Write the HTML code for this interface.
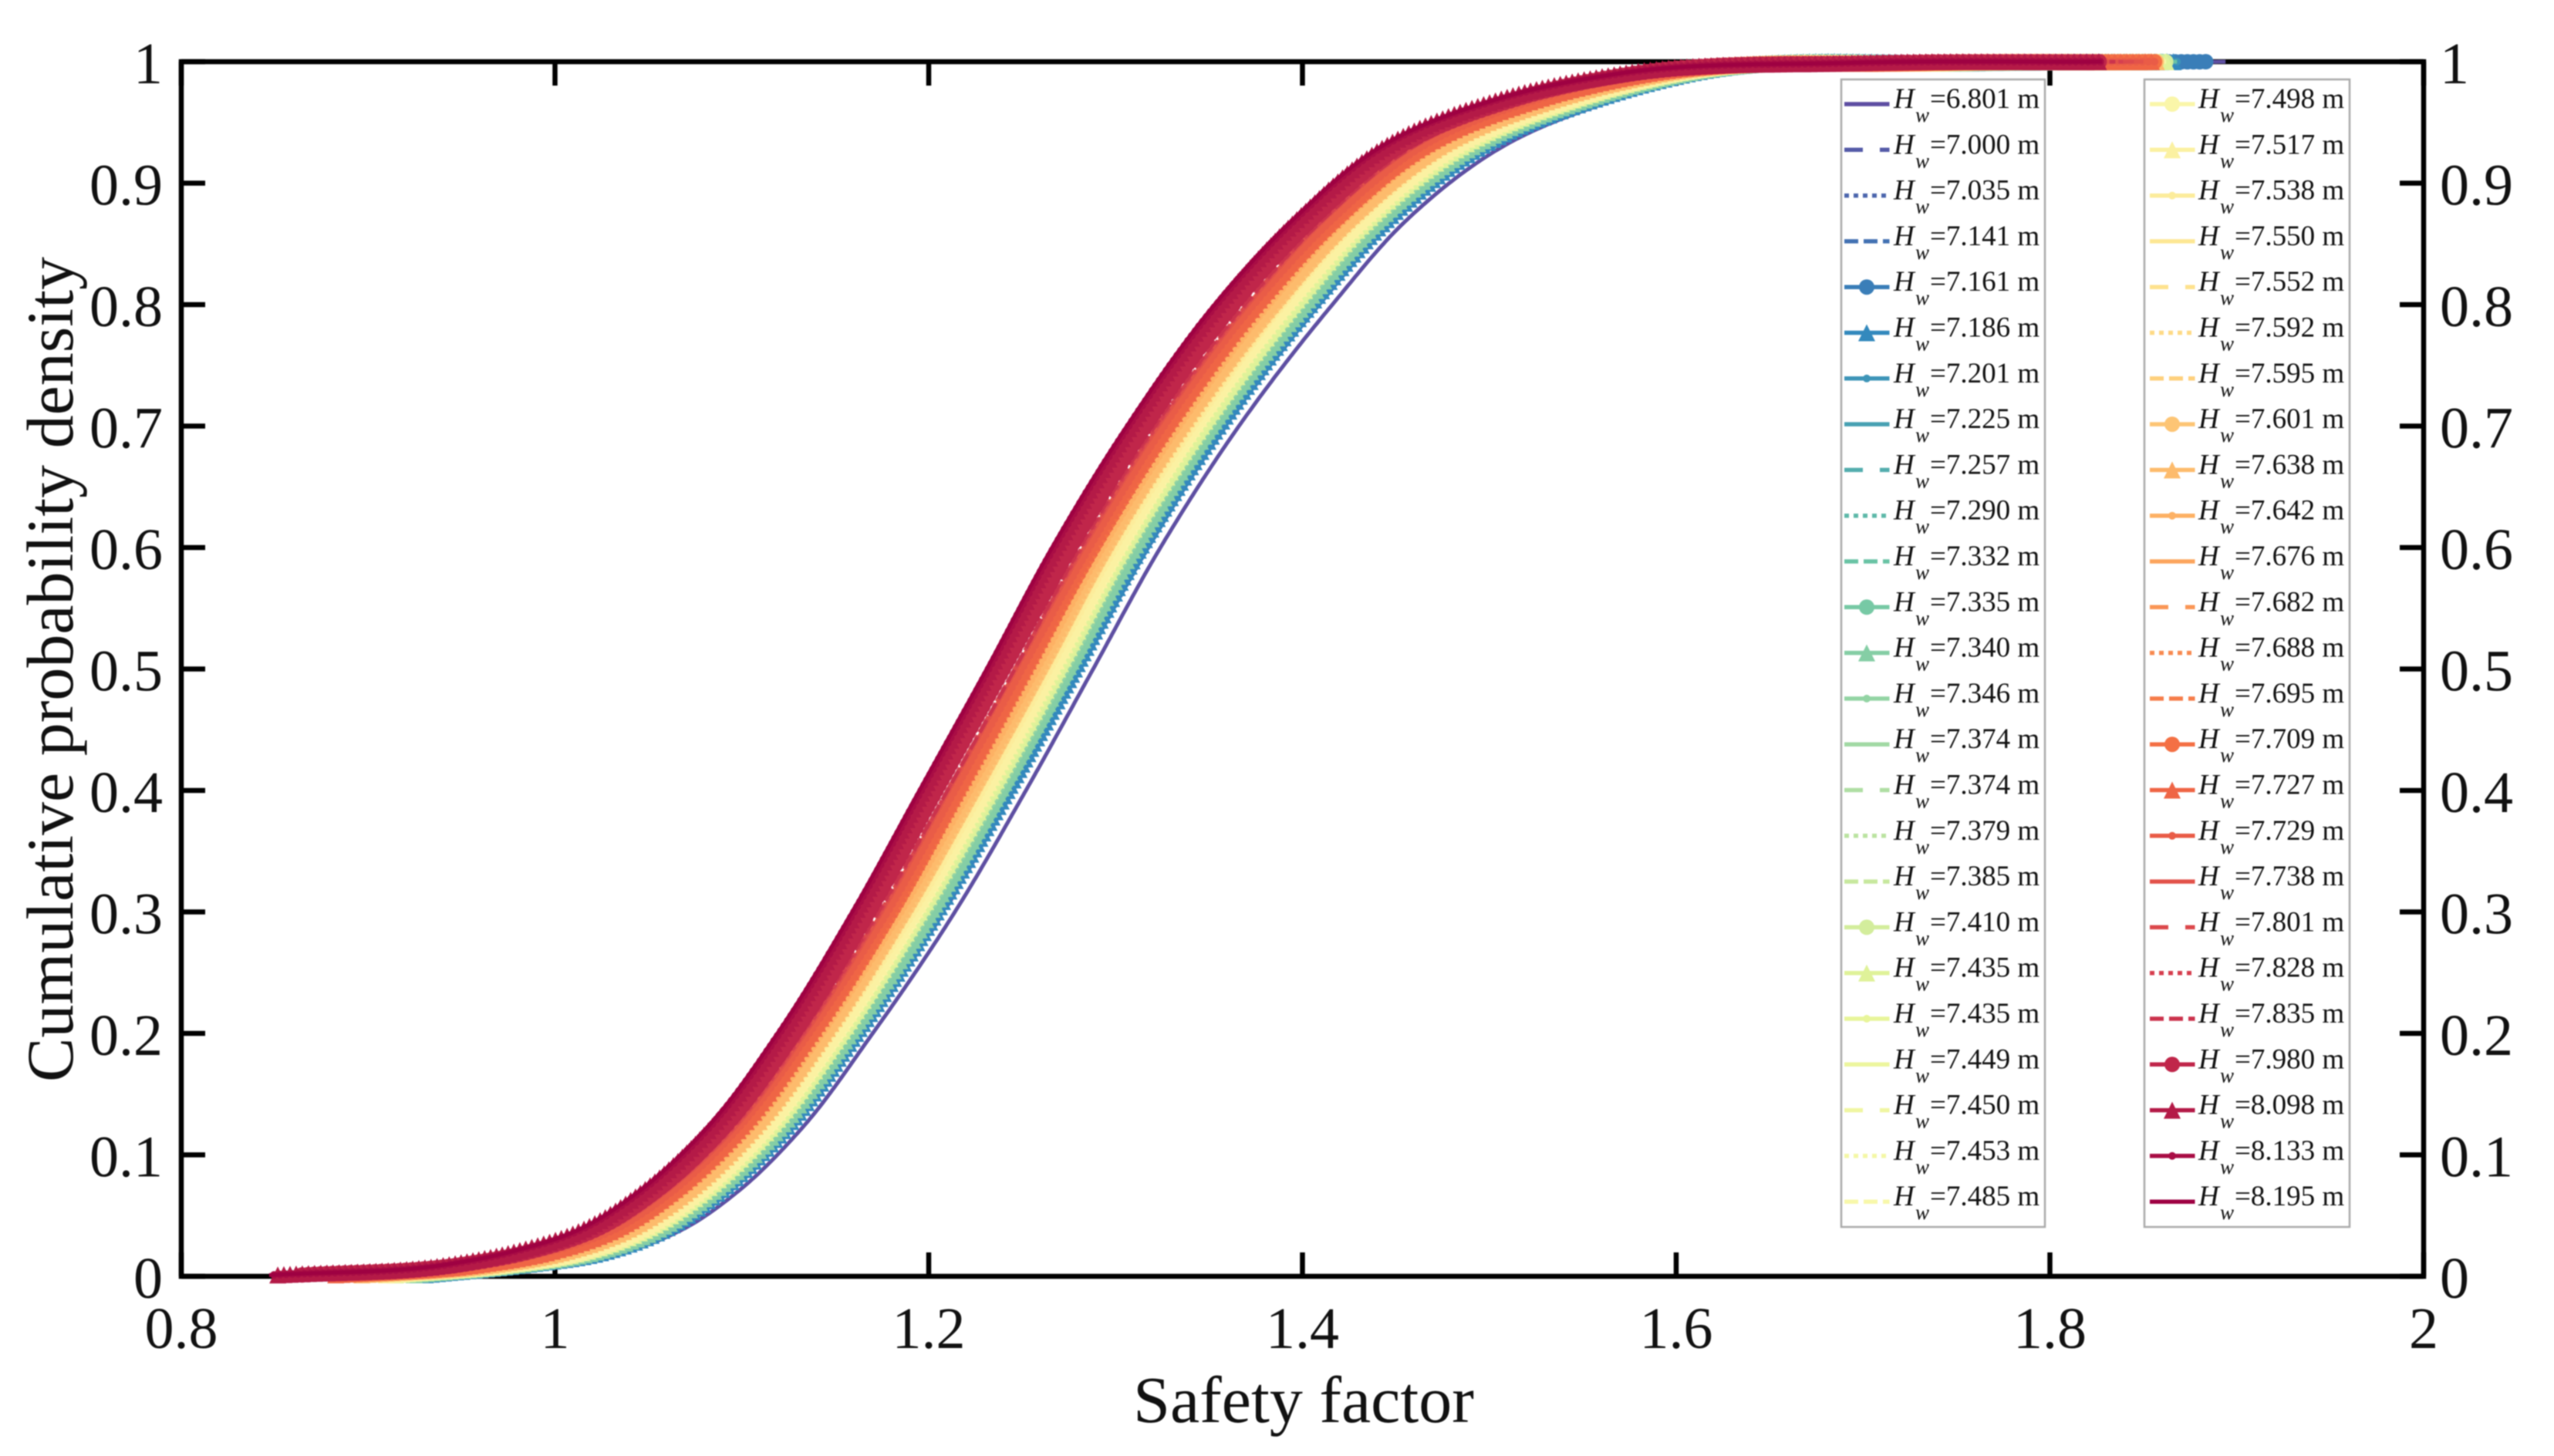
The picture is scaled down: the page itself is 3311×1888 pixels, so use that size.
<!DOCTYPE html>
<html lang="en">
<head>
<meta charset="utf-8">
<title>Cumulative probability density vs safety factor</title>
<style>
html,body{margin:0;padding:0;background:#fff;}
svg{display:block;filter:blur(0.7px);font-family:"Liberation Serif","Times New Roman",serif;}
</style>
</head>
<body>
<svg id="chart" xmlns="http://www.w3.org/2000/svg" width="3311" height="1888" viewBox="0 0 3311 1888">
  <rect width="3311" height="1888" fill="#fff"/>
  <g id="axes"></g>
  <g id="curves"></g>
  <g id="legends"></g>
  <text x="1690" y="1844" font-size="86" text-anchor="middle" fill="#111">Safety factor</text>
  <text transform="translate(94,868) rotate(-90)" font-size="86" text-anchor="middle" fill="#111">Cumulative probability density</text>
</svg>
<script>
const xTickValues = [0.8, 1, 1.2, 1.4, 1.6, 1.8, 2];
const xTickLabels = ["0.8", "1", "1.2", "1.4", "1.6", "1.8", "2"];
const yTickValues = [0, 0.1, 0.2, 0.3, 0.4, 0.5, 0.6, 0.7, 0.8, 0.9, 1];
const yTickLabels = ["0", "0.1", "0.2", "0.3", "0.4", "0.5", "0.6", "0.7", "0.8", "0.9", "1"];

const waterHeights = ["6.801","7.000","7.035","7.141","7.161","7.186","7.201","7.225","7.257","7.290","7.332","7.335","7.340","7.346","7.374","7.374","7.379","7.385","7.410","7.435","7.435","7.449","7.450","7.453","7.485","7.498","7.517","7.538","7.550","7.552","7.592","7.595","7.601","7.638","7.642","7.676","7.682","7.688","7.695","7.709","7.727","7.729","7.738","7.801","7.828","7.835","7.980","8.098","8.133","8.195"];

const probabilityLevels = [0.001,0.01,0.02,0.04,0.07,0.12,0.2,0.3,0.4,0.5,0.6,0.7,0.8,0.87,0.93,0.97,0.99,0.999,1];

const safetyFactors = [
[.947,.996,1.037,1.070,1.098,1.131,1.170,1.214,1.252,1.288,1.324,1.366,1.416,1.456,1.507,1.570,1.615,1.776,1.894],
[.935,.990,1.030,1.064,1.092,1.125,1.164,1.208,1.245,1.281,1.317,1.359,1.409,1.449,1.500,1.563,1.610,1.766,1.877],
[.935,.990,1.030,1.063,1.092,1.125,1.164,1.207,1.245,1.281,1.317,1.359,1.408,1.449,1.499,1.562,1.609,1.766,1.876],
[.932,.988,1.028,1.062,1.090,1.123,1.162,1.206,1.244,1.280,1.315,1.357,1.407,1.447,1.497,1.560,1.608,1.763,1.874],
[.929,.987,1.026,1.060,1.089,1.122,1.161,1.204,1.242,1.278,1.314,1.355,1.405,1.445,1.496,1.559,1.607,1.761,1.885],
[.929,.986,1.026,1.060,1.088,1.122,1.161,1.204,1.242,1.278,1.313,1.355,1.404,1.445,1.495,1.558,1.606,1.761,1.866],
[.928,.986,1.025,1.060,1.088,1.121,1.160,1.204,1.241,1.277,1.313,1.355,1.404,1.444,1.495,1.558,1.606,1.760,1.868],
[.927,.986,1.025,1.059,1.088,1.121,1.160,1.203,1.241,1.277,1.312,1.354,1.404,1.444,1.494,1.557,1.606,1.759,1.868],
[.927,.985,1.025,1.059,1.087,1.121,1.160,1.203,1.240,1.276,1.312,1.354,1.403,1.444,1.494,1.557,1.606,1.759,1.868],
[.926,.985,1.024,1.058,1.087,1.120,1.159,1.202,1.240,1.276,1.312,1.353,1.403,1.443,1.493,1.557,1.605,1.758,1.868],
[.925,.984,1.023,1.058,1.086,1.120,1.159,1.202,1.239,1.275,1.311,1.353,1.402,1.442,1.492,1.556,1.605,1.757,1.868],
[.923,.984,1.023,1.057,1.086,1.119,1.158,1.201,1.239,1.275,1.310,1.352,1.401,1.442,1.492,1.555,1.604,1.756,1.862],
[.923,.983,1.022,1.057,1.085,1.119,1.158,1.201,1.238,1.274,1.310,1.351,1.401,1.441,1.491,1.554,1.604,1.755,1.862],
[.922,.983,1.022,1.056,1.085,1.118,1.157,1.200,1.238,1.274,1.309,1.351,1.400,1.441,1.491,1.554,1.603,1.755,1.862],
[.920,.982,1.020,1.055,1.084,1.117,1.156,1.199,1.237,1.273,1.308,1.350,1.399,1.439,1.489,1.553,1.602,1.753,1.862],
[.919,.981,1.020,1.055,1.083,1.117,1.156,1.199,1.236,1.272,1.308,1.349,1.398,1.439,1.489,1.552,1.602,1.752,1.862],
[.918,.981,1.019,1.054,1.083,1.116,1.155,1.198,1.235,1.271,1.307,1.349,1.398,1.438,1.488,1.551,1.601,1.751,1.862],
[.916,.980,1.018,1.053,1.082,1.116,1.155,1.197,1.235,1.271,1.306,1.348,1.397,1.437,1.487,1.550,1.601,1.750,1.862],
[.914,.979,1.017,1.052,1.081,1.115,1.154,1.196,1.234,1.270,1.305,1.347,1.396,1.436,1.486,1.549,1.600,1.748,1.862],
[.913,.978,1.016,1.051,1.080,1.114,1.153,1.195,1.233,1.269,1.304,1.346,1.395,1.435,1.485,1.548,1.599,1.747,1.862],
[.912,.978,1.016,1.051,1.080,1.114,1.153,1.195,1.232,1.268,1.304,1.345,1.394,1.435,1.485,1.548,1.599,1.747,1.862],
[.912,.977,1.016,1.051,1.079,1.113,1.152,1.195,1.232,1.268,1.303,1.345,1.394,1.435,1.484,1.547,1.599,1.746,1.862],
[.911,.977,1.015,1.050,1.079,1.113,1.152,1.194,1.232,1.268,1.303,1.344,1.393,1.434,1.484,1.547,1.598,1.746,1.862],
[.910,.977,1.015,1.050,1.079,1.112,1.151,1.194,1.231,1.267,1.302,1.344,1.393,1.434,1.483,1.547,1.598,1.745,1.862],
[.910,.976,1.014,1.050,1.078,1.112,1.151,1.194,1.231,1.267,1.302,1.344,1.393,1.433,1.483,1.546,1.598,1.744,1.862],
[.909,.976,1.014,1.049,1.078,1.112,1.151,1.193,1.230,1.266,1.302,1.343,1.392,1.433,1.482,1.546,1.597,1.744,1.857],
[.908,.975,1.013,1.048,1.077,1.111,1.150,1.192,1.230,1.266,1.301,1.342,1.391,1.432,1.481,1.545,1.597,1.743,1.857],
[.906,.975,1.012,1.048,1.077,1.110,1.149,1.192,1.229,1.265,1.300,1.342,1.390,1.431,1.481,1.544,1.596,1.742,1.857],
[.905,.974,1.011,1.047,1.076,1.110,1.149,1.191,1.228,1.264,1.299,1.341,1.390,1.430,1.480,1.543,1.595,1.740,1.857],
[.904,.973,1.011,1.046,1.075,1.109,1.148,1.190,1.227,1.263,1.298,1.340,1.389,1.430,1.479,1.542,1.595,1.739,1.857],
[.901,.972,1.009,1.045,1.074,1.108,1.147,1.189,1.226,1.262,1.297,1.338,1.387,1.428,1.477,1.540,1.594,1.737,1.857],
[.899,.971,1.008,1.044,1.073,1.107,1.146,1.188,1.225,1.261,1.296,1.338,1.386,1.427,1.476,1.540,1.593,1.736,1.857],
[.898,.970,1.007,1.043,1.072,1.106,1.145,1.187,1.224,1.260,1.295,1.336,1.385,1.426,1.475,1.538,1.592,1.734,1.857],
[.895,.969,1.005,1.041,1.071,1.105,1.144,1.185,1.222,1.258,1.293,1.335,1.383,1.424,1.473,1.537,1.591,1.732,1.857],
[.893,.968,1.004,1.041,1.070,1.104,1.143,1.185,1.222,1.258,1.293,1.334,1.382,1.423,1.472,1.536,1.590,1.731,1.857],
[.890,.966,1.002,1.039,1.068,1.102,1.141,1.183,1.220,1.256,1.291,1.332,1.380,1.421,1.470,1.534,1.589,1.728,1.857],
[.889,.966,1.002,1.039,1.068,1.102,1.141,1.183,1.219,1.255,1.290,1.332,1.380,1.421,1.470,1.533,1.588,1.727,1.857],
[.889,.965,1.002,1.038,1.067,1.102,1.141,1.182,1.219,1.255,1.290,1.331,1.379,1.421,1.469,1.533,1.588,1.727,1.857],
[.887,.965,1.001,1.037,1.067,1.101,1.140,1.181,1.218,1.254,1.289,1.330,1.378,1.420,1.468,1.532,1.587,1.726,1.857],
[.884,.963,.999,1.036,1.065,1.099,1.138,1.180,1.216,1.252,1.288,1.328,1.376,1.418,1.466,1.530,1.586,1.723,1.856],
[.881,.961,.997,1.034,1.063,1.098,1.137,1.178,1.215,1.251,1.286,1.327,1.375,1.416,1.464,1.528,1.584,1.720,1.856],
[.881,.961,.997,1.034,1.063,1.097,1.136,1.178,1.214,1.250,1.286,1.326,1.374,1.416,1.464,1.528,1.584,1.720,1.856],
[.875,.958,.993,1.031,1.060,1.095,1.134,1.175,1.211,1.247,1.283,1.323,1.371,1.412,1.460,1.524,1.582,1.715,1.850],
[.874,.957,.992,1.030,1.059,1.094,1.133,1.174,1.210,1.246,1.282,1.322,1.370,1.411,1.459,1.523,1.581,1.714,1.845],
[.873,.957,.992,1.030,1.059,1.094,1.133,1.174,1.210,1.246,1.282,1.322,1.370,1.411,1.459,1.523,1.581,1.714,1.840],
[.872,.957,.992,1.029,1.059,1.093,1.132,1.173,1.210,1.246,1.281,1.321,1.369,1.411,1.459,1.522,1.580,1.713,1.835],
[.863,.952,.986,1.024,1.054,1.089,1.128,1.168,1.204,1.240,1.276,1.316,1.363,1.405,1.452,1.516,1.576,1.705,1.828],
[.850,.945,.978,1.017,1.047,1.082,1.121,1.161,1.197,1.233,1.268,1.308,1.355,1.397,1.444,1.508,1.570,1.694,1.826],
[.848,.944,.977,1.016,1.046,1.081,1.120,1.160,1.196,1.232,1.267,1.307,1.354,1.396,1.443,1.507,1.569,1.692,1.827],
[.847,.943,.976,1.015,1.045,1.080,1.119,1.159,1.195,1.231,1.266,1.306,1.353,1.395,1.442,1.506,1.568,1.691,1.828]
];

const SVGNS = "http://www.w3.org/2000/svg";
const plot = {left: 235, right: 3142, top: 80, bottom: 1655};
function xAxis(v) { return plot.left + (v - 0.8) / 1.2 * (plot.right - plot.left); }
function yAxis(v) { return plot.bottom - v * (plot.bottom - plot.top); }

const cmapStops = [[94,79,162],[50,136,189],[102,194,165],[171,221,164],[230,245,152],[250,248,172],[254,224,139],[253,174,97],[244,109,67],[213,62,79],[158,1,66]];
function seriesColor(i) {
  const t = i / 49 * 10, a = Math.min(9, Math.floor(t)), f = t - a;
  const c = [0,1,2].map(k => Math.round(cmapStops[a][k] + (cmapStops[a+1][k] - cmapStops[a][k]) * f));
  return "rgb(" + c.join(",") + ")";
}
function styleOf(i) { return i % 7; }
function dashOf(style) {
  if (style === 1) return "24 22";
  if (style === 2) return "6 6";
  if (style === 3) return "18 7";
  return "";
}
function markerPath(style, x, y) {
  const f = n => n.toFixed(1);
  if (style === 4) { const r = 10; return "M" + f(x-r) + " " + f(y) + "a" + r + " " + r + " 0 1 0 " + 2*r + " 0a" + r + " " + r + " 0 1 0 " + (-2*r) + " 0Z"; }
  if (style === 5) { const r = 11; return "M" + f(x) + " " + f(y-r) + "L" + f(x+r) + " " + f(y+r) + "L" + f(x-r) + " " + f(y+r) + "Z"; }
  if (style === 6) { const r = 5; return "M" + f(x-r) + " " + f(y) + "a" + r + " " + r + " 0 1 0 " + 2*r + " 0a" + r + " " + r + " 0 1 0 " + (-2*r) + " 0Z"; }
  return "";
}
function sampleCurve(values) {
  const xs = values.map(xAxis), ys = probabilityLevels.map(yAxis), n = xs.length;
  const h = [];
  for (let i = 0; i < n - 1; i++) h.push(Math.hypot(xs[i+1] - xs[i], ys[i+1] - ys[i]));
  function tangents(v) {
    const d = [], m = [];
    for (let i = 0; i < n - 1; i++) d.push((v[i+1] - v[i]) / h[i]);
    m[0] = d[0]; m[n-1] = d[n-2];
    for (let i = 1; i < n - 1; i++) m[i] = (d[i-1] * h[i] + d[i] * h[i-1]) / (h[i-1] + h[i]);
    return m;
  }
  const mx = tangents(xs), my = tangents(ys);
  const pts = [];
  for (let i = 0; i < n - 1; i++) {
    const steps = Math.max(2, Math.ceil(h[i] / 4));
    for (let j = 0; j < steps; j++) {
      const t = j / steps, t2 = t*t, t3 = t2*t;
      const a = 2*t3-3*t2+1, b = (t3-2*t2+t)*h[i], c = -2*t3+3*t2, e = (t3-t2)*h[i];
      pts.push([a*xs[i] + b*mx[i] + c*xs[i+1] + e*mx[i+1], a*ys[i] + b*my[i] + c*ys[i+1] + e*my[i+1]]);
    }
  }
  pts.push([xs[n-1], ys[n-1]]);
  return pts;
}

const axes = document.getElementById("axes");
function addLine(parent, x1, y1, x2, y2, name) {
  const el = document.createElementNS(SVGNS, "line");
  el.setAttribute("x1", x1); el.setAttribute("y1", y1);
  el.setAttribute("x2", x2); el.setAttribute("y2", y2);
  el.setAttribute("stroke", "#000"); el.setAttribute("stroke-width", "6.5");
  
  
  parent.appendChild(el);
}
function addText(parent, x, y, str, anchor, size, name) {
  const el = document.createElementNS(SVGNS, "text");
  el.setAttribute("x", x); el.setAttribute("y", y);
  el.setAttribute("text-anchor", anchor); el.setAttribute("font-size", size);
  el.setAttribute("fill", "#111");
  
  
  el.textContent = str;
  parent.appendChild(el);
  return el;
}
const frame = document.createElementNS(SVGNS, "rect");
frame.setAttribute("x", plot.left); frame.setAttribute("y", plot.top);
frame.setAttribute("width", plot.right - plot.left); frame.setAttribute("height", plot.bottom - plot.top);
frame.setAttribute("fill", "none"); frame.setAttribute("stroke", "#000"); frame.setAttribute("stroke-width", "6.5");


axes.appendChild(frame);

xTickValues.forEach((v, i) => {
  const x = xAxis(v);
  addLine(axes, x, plot.bottom, x, plot.bottom - 31, "x-tick-bottom");
  addLine(axes, x, plot.top, x, plot.top + 31, "x-tick-top");
  addText(axes, x, 1748, xTickLabels[i], "middle", 76, "x-tick-label");
});
yTickValues.forEach((v, i) => {
  const y = yAxis(v);
  addLine(axes, plot.left, y, plot.left + 31, y, "y-tick-left");
  addLine(axes, plot.right, y, plot.right - 31, y, "y-tick-right");
  addText(axes, 211, y + 28, yTickLabels[i], "end", 76, "y-tick-label-left");
  addText(axes, 3163, y + 28, yTickLabels[i], "start", 76, "y-tick-label-right");
});

const curves = document.getElementById("curves");
safetyFactors.forEach((values, i) => {
  const pts = sampleCurve(values), style = styleOf(i), color = seriesColor(i);
  const g = document.createElementNS(SVGNS, "g");
  
  
  const line = document.createElementNS(SVGNS, "path");
  line.setAttribute("d", "M" + pts.map(p => p[0].toFixed(1) + " " + p[1].toFixed(1)).join("L"));
  line.setAttribute("fill", "none");
  line.setAttribute("stroke", color);
  line.setAttribute("stroke-width", "5");
  const dash = dashOf(style);
  if (dash) line.setAttribute("stroke-dasharray", dash);
  
  
  g.appendChild(line);
  if (style >= 4) {
    let acc = 7, d = "";
    for (let k = 1; k < pts.length; k++) {
      acc += Math.hypot(pts[k][0] - pts[k-1][0], pts[k][1] - pts[k-1][1]);
      if (acc >= 7) { d += markerPath(style, pts[k][0], pts[k][1]); acc = 0; }
    }
    const mk = document.createElementNS(SVGNS, "path");
    mk.setAttribute("d", d);
    mk.setAttribute("fill", color);
    
    
    g.appendChild(mk);
  }
  curves.appendChild(g);
});

const legends = document.getElementById("legends");
const legendColumns = [
  {boxX: 2387, boxW: 264, lineX: 2391, textX: 2455, start: 0},
  {boxX: 2780, boxW: 266, lineX: 2787, textX: 2850, start: 25}
];
legendColumns.forEach(col => {
  const box = document.createElementNS(SVGNS, "rect");
  box.setAttribute("x", col.boxX); box.setAttribute("y", 103);
  box.setAttribute("width", col.boxW); box.setAttribute("height", 1488);
  box.setAttribute("fill", "#fff"); box.setAttribute("stroke", "#aaa"); box.setAttribute("stroke-width", "2.5");
  
  
  legends.appendChild(box);
  for (let r = 0; r < 25; r++) {
    const i = col.start + r, y = 135 + r * 59.3, style = styleOf(i), color = seriesColor(i);
    const g = document.createElementNS(SVGNS, "g");
    
    
    const ln = document.createElementNS(SVGNS, "line");
    ln.setAttribute("x1", col.lineX); ln.setAttribute("x2", col.lineX + 58.5);
    ln.setAttribute("y1", y); ln.setAttribute("y2", y);
    ln.setAttribute("stroke", color); ln.setAttribute("stroke-width", "5.5");
    const dash = dashOf(style);
    if (dash) ln.setAttribute("stroke-dasharray", dash);
    
    
    g.appendChild(ln);
    if (style >= 4) {
      const mk = document.createElementNS(SVGNS, "path");
      mk.setAttribute("d", markerPath(style, col.lineX + 29, y));
      mk.setAttribute("fill", color);
      
      
      g.appendChild(mk);
    }
    const h = addText(g, col.textX, y + 5, "H", "start", 37, "legend-h-symbol");
    h.setAttribute("font-style", "italic");
    const w = addText(g, col.textX + 28, y + 23, "w", "start", 27, "legend-w-subscript");
    w.setAttribute("font-style", "italic");
    addText(g, col.textX + 47, y + 5, "=" + waterHeights[i] + " m", "start", 37, "legend-value");
    legends.appendChild(g);
  }
});
</script>
</body>
</html>
